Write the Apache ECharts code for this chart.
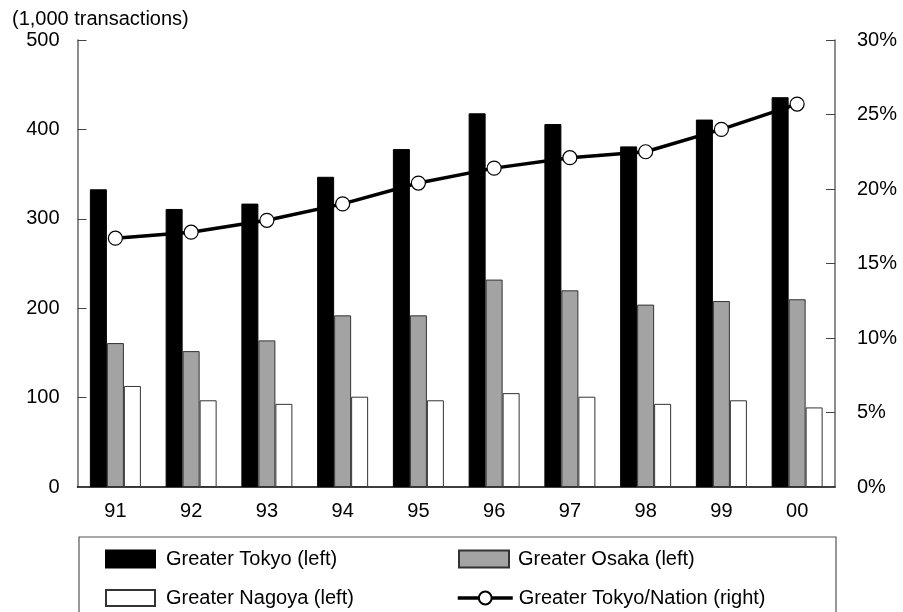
<!DOCTYPE html>
<html>
<head>
<meta charset="utf-8">
<script src="https://cdn.jsdelivr.net/npm/echarts@6/dist/echarts.min.js"></script>
<style>
  html, body { margin: 0; padding: 0; background: #fff; }
  #chart { width: 903px; height: 612px; }
</style>
</head>
<body>
<div id="chart"></div>
<script>
// Fiscal years
const years = ['91', '92', '93', '94', '95', '96', '97', '98', '99', '00'];
// Transactions, thousands (left axis)
const greaterTokyo = [333, 311, 317, 347, 378, 418, 406, 381, 411, 436];
const greaterOsaka = [161, 152, 164, 192, 192, 232, 220, 204, 208, 210];
const greaterNagoya = [113, 97, 93, 101, 97, 105, 101, 93, 97, 89];
// Greater Tokyo share of the national total, % (right axis)
const tokyoShare = [16.7, 17.1, 17.9, 19.0, 20.4, 21.4, 22.1, 22.5, 24.0, 25.7];

const FONT = 'Liberation Sans, Arial, Helvetica, sans-serif';
const chart = echarts.init(document.getElementById('chart'), null, { renderer: 'canvas' });

function legendText(pad) {
  return { fontFamily: FONT, fontSize: 20, color: '#000', padding: [0, 0, 0, pad] };
}

const NAME_TOKYO = 'Greater Tokyo (left)';
const NAME_OSAKA = 'Greater Osaka (left)';
const NAME_NAGOYA = 'Greater Nagoya (left)';
const NAME_SHARE = 'Greater Tokyo/Nation (right)';

chart.setOption({
  animation: false,
  backgroundColor: '#fff',
  textStyle: { fontFamily: FONT },
  grid: { left: 77.5, right: 68, top: 40, bottom: 125 },
  xAxis: {
    type: 'category',
    data: years,
    boundaryGap: true,
    axisLine: { lineStyle: { color: '#000', width: 1.5 } },
    axisTick: { inside: true, length: 10, lineStyle: { color: '#333' } },
    axisLabel: { color: '#000', fontSize: 20, margin: 14, fontFamily: FONT }
  },
  yAxis: [
    {
      type: 'value', min: 0, max: 500, interval: 100, position: 'left',
      axisLine: { show: true, lineStyle: { color: '#666', width: 1.5 } },
      axisTick: { show: true, inside: true, length: 9, lineStyle: { color: '#444' } },
      axisLabel: { color: '#000', fontSize: 20, margin: 18, fontFamily: FONT },
      splitLine: { show: false }
    },
    {
      type: 'value', min: 0, max: 30, interval: 5, position: 'right',
      axisLine: { show: true, lineStyle: { color: '#666', width: 1.5 } },
      axisTick: { show: true, inside: true, length: 9, lineStyle: { color: '#444' } },
      axisLabel: { color: '#000', fontSize: 20, margin: 22, fontFamily: FONT, formatter: '{value}%' },
      splitLine: { show: false }
    }
  ],
  legend: [
    {
      left: 105, top: 549, padding: 0, itemWidth: 49, itemHeight: 17,
      data: [{ name: NAME_TOKYO, icon: 'rect' }],
      textStyle: legendText(6)
    },
    {
      left: 458, top: 549, padding: 0, itemWidth: 50, itemHeight: 17,
      data: [{ name: NAME_OSAKA, icon: 'rect' }],
      textStyle: legendText(4)
    },
    {
      left: 105, top: 588, padding: 0, itemWidth: 49, itemHeight: 16,
      data: [{ name: NAME_NAGOYA, icon: 'rect' }],
      textStyle: legendText(6)
    },
    {
      left: 456, top: 588, padding: 0, itemWidth: 55, itemHeight: 16,
      data: [{ name: NAME_SHARE }],
      lineStyle: { width: 3.5, color: '#000' },
      textStyle: legendText(1)
    }
  ],
  graphic: [
    {
      type: 'text', left: 12, top: 9,
      style: { text: '(1,000 transactions)', fontFamily: FONT, fontSize: 20, fill: '#000' }
    },
    {
      type: 'rect', shape: { x: 79, y: 537, width: 757, height: 90 },
      style: { fill: 'none', stroke: '#555', lineWidth: 1.2 }, z: 0
    }
  ],
  series: [
    {
      name: NAME_TOKYO, type: 'bar', data: greaterTokyo,
      barWidth: 17, barGap: '0%',
      itemStyle: { color: '#000', borderColor: '#000', borderWidth: 1 }
    },
    {
      name: NAME_OSAKA, type: 'bar', data: greaterOsaka,
      barWidth: 17, barGap: '0%',
      itemStyle: { color: '#a3a3a3', borderColor: '#333', borderWidth: 1 }
    },
    {
      name: NAME_NAGOYA, type: 'bar', data: greaterNagoya,
      barWidth: 17, barGap: '0%',
      itemStyle: { color: '#fff', borderColor: '#333', borderWidth: 1 }
    },
    {
      name: NAME_SHARE, type: 'line', yAxisIndex: 1, data: tokyoShare,
      symbol: 'circle', symbolSize: 14, showAllSymbol: true,
      lineStyle: { color: '#000', width: 3.5 },
      itemStyle: { color: '#fff', borderColor: '#000', borderWidth: 1.2 },
      z: 5
    }
  ]
});
</script>
</body>
</html>
